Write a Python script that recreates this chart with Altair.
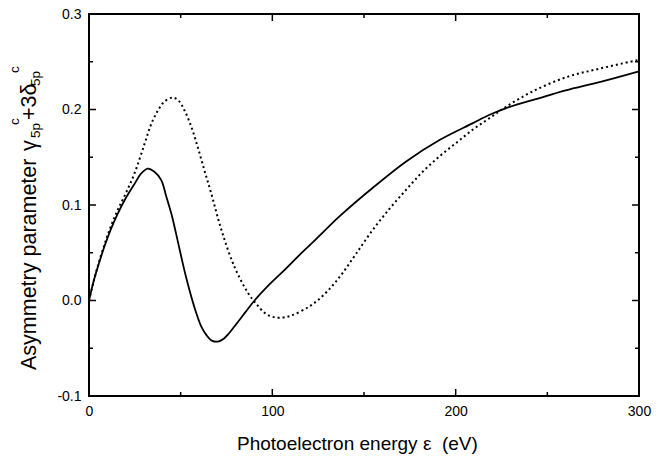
import altair as alt
import pandas as pd

# ---- data ----
energy_solid = [0, 2.5, 4.8, 8.5, 12, 15.7, 20, 24.8, 28.5, 32, 35.5, 39.4, 42, 44.9, 47.5,
                50.3, 53, 55.8, 58.5, 61.2, 64, 67, 70.3, 73.5, 76.5, 79.4, 85, 90.3, 98,
                106.7, 115, 124, 136.6, 154.8, 173, 191.2, 209.4, 218.5, 227.6, 245.7,
                260, 279, 300]
gamma_solid = [0.0, 0.02, 0.035, 0.057, 0.075, 0.091, 0.107, 0.122, 0.133, 0.138, 0.135,
               0.126, 0.110, 0.091, 0.070, 0.046, 0.024, 0.004, -0.013, -0.027, -0.036,
               -0.042, -0.043, -0.040, -0.034, -0.027, -0.013, 0.0, 0.016, 0.032, 0.048,
               0.0645, 0.088, 0.118, 0.1456, 0.168, 0.1857, 0.1945, 0.2015, 0.212,
               0.220, 0.229, 0.240]

energy_dotted = [0, 2.5, 4.8, 8.5, 12, 15.7, 20, 24.8, 30.3, 34, 37.6, 41, 45.7, 49, 52.1,
                 55.8, 59.4, 63, 66.7, 72.2, 79.4, 86.7, 91, 95.8, 100, 104, 110, 120.4,
                 127, 133, 138.4, 145.7, 154.8, 163.9, 173, 182.1, 191.2, 200.3, 209.4,
                 218.5, 227.6, 242, 260.6, 279, 300]
gamma_dotted = [0.0, 0.02, 0.036, 0.059, 0.078, 0.095, 0.112, 0.133, 0.164, 0.185, 0.199,
                0.208, 0.2125, 0.209, 0.199, 0.182, 0.160, 0.136, 0.112, 0.074, 0.035,
                0.008, -0.003, -0.013, -0.017, -0.018, -0.016, -0.006, 0.004, 0.016,
                0.029, 0.049, 0.074, 0.096, 0.116, 0.135, 0.151, 0.165, 0.179, 0.191,
                0.203, 0.219, 0.234, 0.243, 0.252]

x_labels = [0, 100, 200, 300]
y_labels = [-0.1, 0.0, 0.1, 0.2, 0.3]
x_major = [100, 200]
x_minor = [50, 150, 250]
y_major = [0.0, 0.1, 0.2]
y_minor = [-0.05, 0.05, 0.15, 0.25]

x_title = ["Photoelectron energy \u03b5\u00a0 (eV)"]
y_title_main = ["Asymmetry parameter"]
y_title_gamma = ["\u03b3"]
y_title_plus = ["+3\u03b4"]
y_sub = ["5p"]
y_sup = ["c"]

# ---- layout ----
W, H = 550, 382
FONT = "Liberation Sans"
MAJ, MIN = 7, 4

xscale = alt.Scale(domain=[0, 300], nice=False, zero=False)
yscale = alt.Scale(domain=[-0.1, 0.3], nice=False, zero=False)

xaxis = alt.Axis(values=x_labels, title=None, domain=False, ticks=False, grid=False,
                 labelPadding=8, labelFontSize=14, labelFont=FONT, labelColor="black",
                 labelFlush=False, labelOverlap=False, format="d")
yaxis = alt.Axis(values=y_labels, title=None, domain=False, ticks=False, grid=False,
                 labelPadding=8, labelFontSize=14, labelFont=FONT, labelColor="black",
                 labelFlush=False, labelOverlap=False,
                 labelExpr="datum.value < -0.0001 ? '-' + format(-datum.value, '.1f') : format(datum.value, '.1f')")

solid_df = pd.DataFrame({"E": energy_solid, "g": gamma_solid})
dotted_df = pd.DataFrame({"E": energy_dotted, "g": gamma_dotted})

X = alt.X("E:Q", scale=xscale, axis=xaxis)
Y = alt.Y("g:Q", scale=yscale, axis=yaxis)

solid = alt.Chart(solid_df).mark_line(color="black", strokeWidth=1.8,
                                      interpolate="catmull-rom").encode(x=X, y=Y)
dotted = alt.Chart(dotted_df).mark_line(color="black", strokeWidth=2, strokeDash=[2, 3],
                                        interpolate="catmull-rom").encode(x=X, y=Y)


def xticks(vals, length):
    df = pd.DataFrame({"E": vals})
    bottom = alt.Chart(df).mark_rule(color="black", strokeWidth=1.5).encode(
        x=X, y=alt.value(H), y2=alt.value(H - length))
    top = alt.Chart(df).mark_rule(color="black", strokeWidth=1.5).encode(
        x=X, y=alt.value(0), y2=alt.value(length))
    return [bottom, top]


def yticks(vals, length):
    df = pd.DataFrame({"g": vals})
    left = alt.Chart(df).mark_rule(color="black", strokeWidth=1.5).encode(
        y=Y, x=alt.value(0), x2=alt.value(length))
    right = alt.Chart(df).mark_rule(color="black", strokeWidth=1.5).encode(
        y=Y, x=alt.value(W), x2=alt.value(W - length))
    return [left, right]


def label(text, x, y, size, angle=0):
    df = pd.DataFrame({"t": text})
    return alt.Chart(df).mark_text(font=FONT, fontSize=size, color="black", align="left",
                                   baseline="alphabetic", angle=angle).encode(
        text="t:N", x=alt.value(x), y=alt.value(y))


layers = [solid, dotted]
layers += xticks(x_major, MAJ) + xticks(x_minor, MIN)
layers += yticks(y_major, MAJ) + yticks(y_minor, MIN)
layers += [
    label(x_title, 148, 436, 19),
    label(y_title_main, -53, 356, 21.5, 270),
    label(y_title_gamma, -53, 137, 21.5, 270),
    label(y_sub, -49, 124, 13.5, 270),
    label(y_sup, -70, 111, 13.5, 270),
    label(y_title_plus, -53, 106, 21.5, 270),
    label(y_sub, -49, 72, 13.5, 270),
    label(y_sup, -70, 59, 13.5, 270),
]

chart = alt.layer(*layers).properties(
    width=W, height=H,
    padding={"left": 89, "top": 14, "right": 33, "bottom": 61},
    autosize=alt.AutoSizeParams(type="none"),
    background="white",
).configure_view(stroke="black", strokeWidth=2)

chart.save("out.html", embed_options={"renderer": "svg", "actions": False})
